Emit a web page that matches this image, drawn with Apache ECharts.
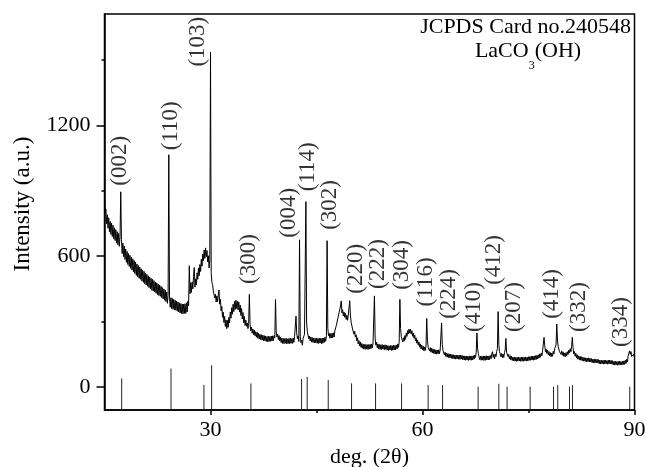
<!DOCTYPE html>
<html>
<head>
<meta charset="utf-8">
<script src="https://cdn.jsdelivr.net/npm/echarts@6/dist/echarts.min.js"></script>
<style>
  html, body { margin: 0; padding: 0; background: #fff; }
  #chart { width: 646px; height: 467px; }
</style>
</head>
<body>
<div id="chart"></div>
<script>
// Measured XRD scan of LaCO3(OH), 0.1° steps in 2θ; each block starts at the 2θ in its name
const STEP = 0.1;
const counts15 = [870, 800, 815, 748, 790, 728, 776, 712, 760, 700, 752, 690, 742, 680, 730, 672, 722, 660, 712, 652,
                  704, 645, 690, 895, 676, 612, 660, 598, 646, 585, 633, 572, 622, 562, 612, 553, 604, 544, 596, 536,
                  588, 528, 580, 521, 572, 512, 564, 506, 557, 498];
const counts20 = [550, 494, 542, 486, 535, 480, 530, 474, 522, 468, 516, 462, 510, 456, 504, 450, 498, 444, 494, 440,
                  488, 436, 482, 430, 478, 424, 472, 420, 468, 416, 462, 410, 456, 404, 450, 398, 444, 392, 436, 384,
                  420, 1065, 412, 366, 410, 360, 406, 357, 402, 354];
const counts25 = [398, 352, 394, 348, 390, 344, 386, 340, 383, 337, 381, 336, 380, 337, 382, 338, 386, 344, 394, 372,
                  556, 428, 478, 434, 482, 450, 506, 548, 458, 496, 468, 524, 494, 546, 510, 562, 530, 586, 554, 610,
                  580, 628, 590, 638, 598, 626, 574, 602, 546, 584];
const counts30 = [1535, 520, 480, 470, 440, 448, 408, 425, 390, 418, 392, 420, 445, 380, 402, 350, 370, 320, 344, 296,
                  324, 278, 308, 268, 306, 274, 320, 294, 344, 316, 364, 334, 380, 346, 392, 356, 398, 360, 394, 354,
                  390, 344, 376, 328, 360, 312, 342, 294, 324, 282];
const counts35 = [307, 279, 294, 268, 292, 425, 286, 258, 275, 247, 266, 240, 261, 235, 254, 229, 251, 224, 246, 221,
                  242, 218, 240, 215, 238, 213, 236, 212, 234, 209, 232, 208, 233, 209, 232, 210, 234, 211, 235, 213,
                  236, 226, 402, 256, 230, 242, 218, 236, 212, 230];
const counts40 = [204, 224, 200, 223, 199, 222, 201, 224, 198, 221, 200, 223, 199, 224, 201, 222, 200, 225, 205, 232,
                  228, 325, 248, 222, 234, 209, 675, 232, 204, 214, 192, 222, 214, 242, 236, 850, 298, 254, 252, 222,
                  234, 212, 230, 206, 227, 205, 225, 202, 224, 203];
const counts45 = [224, 201, 223, 200, 224, 202, 223, 199, 225, 201, 224, 205, 229, 210, 236, 671, 270, 236, 246, 224,
                  245, 225, 247, 226, 249, 230, 258, 250, 282, 276, 312, 306, 342, 336, 372, 395, 340, 355, 326, 344,
                  320, 338, 310, 329, 306, 330, 322, 396, 330, 298];
const counts50 = [300, 266, 272, 242, 256, 229, 240, 212, 226, 198, 213, 189, 207, 182, 200, 178, 197, 174, 195, 173,
                  196, 174, 194, 172, 195, 175, 196, 176, 198, 180, 202, 198, 418, 224, 192, 205, 180, 198, 174, 195,
                  173, 194, 172, 195, 174, 193, 171, 194, 173, 192];
const counts55 = [169, 190, 168, 189, 170, 191, 168, 190, 169, 192, 170, 191, 171, 193, 175, 198, 182, 206, 402, 268,
                  230, 234, 208, 226, 210, 236, 219, 247, 232, 259, 243, 266, 247, 265, 243, 258, 233, 248, 224, 238,
                  212, 226, 201, 216, 192, 207, 183, 198, 175, 192];
const counts60 = [170, 187, 166, 184, 168, 192, 315, 214, 182, 189, 165, 181, 160, 178, 157, 175, 154, 172, 152, 171,
                  151, 170, 152, 171, 153, 170, 162, 294, 196, 168, 168, 147, 160, 140, 156, 137, 154, 135, 152, 134,
                  151, 132, 149, 130, 148, 129, 147, 128, 146, 129];
const counts65 = [147, 128, 146, 127, 147, 129, 145, 126, 143, 124, 143, 123, 142, 124, 141, 122, 143, 124, 142, 123,
                  143, 125, 144, 128, 147, 136, 160, 248, 178, 152, 152, 126, 142, 123, 141, 124, 143, 122, 142, 123,
                  144, 125, 142, 124, 143, 126, 145, 130, 152, 162];
const counts70 = [136, 150, 130, 151, 140, 164, 176, 346, 196, 163, 162, 139, 154, 135, 151, 136, 158, 170, 223, 160,
                  163, 140, 150, 130, 144, 125, 141, 122, 138, 120, 137, 119, 136, 118, 137, 119, 138, 120, 136, 118,
                  137, 119, 138, 118, 136, 120, 138, 119, 137, 120];
const counts75 = [139, 122, 140, 123, 141, 124, 142, 123, 143, 125, 144, 127, 146, 129, 148, 133, 152, 137, 156, 144,
                  168, 170, 228, 190, 162, 174, 154, 170, 148, 163, 142, 158, 139, 156, 141, 164, 152, 176, 168, 194,
                  289, 216, 186, 188, 162, 170, 150, 166, 146, 161];
const counts80 = [141, 156, 139, 158, 142, 162, 149, 170, 156, 176, 162, 186, 228, 182, 152, 163, 141, 155, 134, 148,
                  128, 143, 125, 141, 123, 139, 121, 137, 119, 135, 118, 134, 116, 133, 117, 134, 115, 132, 116, 131,
                  112, 128, 111, 129, 110, 127, 112, 128, 111, 126];
const counts85 = [107, 124, 106, 123, 107, 122, 105, 124, 106, 123, 107, 122, 105, 123, 106, 124, 107, 122, 105, 121,
                  102, 118, 101, 119, 102, 117, 100, 118, 101, 119, 102, 117, 101, 118, 103, 120, 104, 123, 108, 128,
                  116, 142, 143, 166, 150, 163, 140, 148, 132, 150, 136];

// Reference card 24-0548: line positions (2θ) and relative intensities
const cardTwoTheta = [17.43, 24.41, 29.07, 30.16, 35.72, 42.89, 43.68, 46.66, 49.96, 53.36, 57.04,
                      60.80, 62.84, 67.87, 70.80, 71.97, 75.23, 78.54, 79.14, 80.80, 81.22, 89.33];
const cardIntensity = [40, 85, 10, 100, 17, 37, 47, 32, 17, 17, 17,
                       9, 9, 2, 15, 2, 2, 2, 9, 2, 9, 2];

// Miller indices and where each label sits (2θ, intensity)
const hklNames = ['(002)', '(110)', '(103)', '(300)', '(004)', '(114)', '(302)', '(220)', '(222)',
                  '(304)', '(116)', '(224)', '(410)', '(412)', '(207)', '(414)', '(332)', '(334)'];
const hklTwoTheta = [17.19, 24.41, 28.22, 35.44, 41.10, 43.78, 46.90, 50.57, 53.68,
                     57.08, 60.47, 63.72, 67.25, 70.08, 72.91, 78.29, 82.11, 88.05];
const hklLevel = [1037, 1198, 1583, 587, 799, 1010, 835, 542, 564,
                  560, 482, 427, 367, 583, 367, 427, 367, 298];

const xLabelTicks = [30, 60, 90];
const xMinorTicks = [45, 75];
const yLabelTicks = [0, 600, 1200];
const yMinorTicks = [300, 900, 1500];

const X_MIN = 15, X_MAX = 90, Y_MIN = -105, Y_MAX = 1710;
const SERIF = '"Liberation Serif", "Times New Roman", serif';
const INK = '#000';

const blocks = [[15, counts15], [20, counts20], [25, counts25], [30, counts30], [35, counts35],
                [40, counts40], [45, counts45], [50, counts50], [55, counts55], [60, counts60],
                [65, counts65], [70, counts70], [75, counts75], [80, counts80], [85, counts85]];
const scan = [];
blocks.forEach(([start, counts]) => {
  counts.forEach((v, i) => scan.push([Math.round((start + i * STEP) * 100) / 100, v]));
});
const card = cardTwoTheta.map((t, i) => [t, cardIntensity[i]]);
const hkl = hklNames.map((n, i) => ({ name: n, value: [hklTwoTheta[i], hklLevel[i]] }));

const chart = echarts.init(document.getElementById('chart'), null, { renderer: 'canvas' });

const tickStyle = { color: INK, width: 1.5 };
const labelFont = { fontFamily: SERIF, fontSize: 22, color: INK };

chart.setOption({
  animation: false,
  backgroundColor: '#fff',
  grid: {
    left: 104.5, right: 11.5, top: 14, bottom: 57,
    containLabel: false, outerBoundsMode: 'none',
    show: true, borderColor: INK, borderWidth: 1.5, backgroundColor: 'transparent'
  },
  xAxis: [
    {
      type: 'value', min: X_MIN, max: X_MAX,
      name: 'deg. (2θ)', nameLocation: 'middle', nameGap: 32,
      nameTextStyle: { fontFamily: SERIF, fontSize: 22, color: INK },
      axisLine: { show: true, onZero: false, lineStyle: tickStyle },
      axisTick: { show: true, customValues: xLabelTicks, length: 5, lineStyle: tickStyle },
      axisLabel: Object.assign({ customValues: xLabelTicks, margin: 9, formatter: v => String(v) }, labelFont),
      splitLine: { show: false }
    },
    {
      type: 'value', min: X_MIN, max: X_MAX, position: 'bottom',
      axisLine: { show: false, onZero: false },
      axisTick: { show: true, customValues: xMinorTicks, length: 3, lineStyle: tickStyle },
      axisLabel: { show: false },
      splitLine: { show: false }
    }
  ],
  yAxis: [
    {
      type: 'value', min: Y_MIN, max: Y_MAX,
      axisLine: { show: true, onZero: false, lineStyle: tickStyle },
      axisTick: { show: true, customValues: yLabelTicks, length: 8, lineStyle: tickStyle },
      axisLabel: Object.assign({ customValues: yLabelTicks, margin: 14, formatter: v => String(v) }, labelFont),
      splitLine: { show: false }
    },
    {
      type: 'value', min: Y_MIN, max: Y_MAX, position: 'left',
      axisLine: { show: false, onZero: false },
      axisTick: { show: true, customValues: yMinorTicks, length: 3, lineStyle: tickStyle },
      axisLabel: { show: false },
      splitLine: { show: false }
    }
  ],
  series: [
    {
      name: 'scan', type: 'line', data: scan, xAxisIndex: 0, yAxisIndex: 0,
      showSymbol: false, symbol: 'none', silent: true, z: 3,
      lineStyle: { color: INK, width: 1 }
    },
    {
      name: 'card', type: 'custom', data: card, xAxisIndex: 0, yAxisIndex: 0, silent: true, z: 2,
      renderItem: function (params, api) {
        const base = api.coord([api.value(0), Y_MIN]);
        const top = api.coord([api.value(0), api.value(1)]);
        return {
          type: 'line',
          shape: { x1: base[0], y1: base[1], x2: top[0], y2: top[1] },
          style: { stroke: '#222', lineWidth: 1 }
        };
      }
    },
    {
      name: 'hkl', type: 'scatter', data: hkl, xAxisIndex: 0, yAxisIndex: 0, silent: true,
      symbolSize: 1, itemStyle: { color: 'transparent' }, z: 4,
      label: {
        show: true, formatter: '{b}', rotate: 90, position: 'inside',
        align: 'center', verticalAlign: 'middle',
        fontFamily: SERIF, fontSize: 23, color: INK
      }
    }
  ],
  graphic: [
    {
      type: 'text', x: 631, y: 27, silent: true,
      style: { text: 'JCPDS Card no.240548', fontFamily: SERIF, fontSize: 22, fill: INK,
               align: 'right', verticalAlign: 'middle' }
    },
    {
      type: 'text', x: 528, y: 40, silent: true,
      style: {
        text: '{m|LaCO}{s|3}{m|(OH)}', align: 'center', verticalAlign: 'top',
        rich: {
          m: { fontFamily: SERIF, fontSize: 22, fill: INK, lineHeight: 24, verticalAlign: 'top' },
          s: { fontFamily: SERIF, fontSize: 12, fill: INK, lineHeight: 12, verticalAlign: 'top', padding: [20, 0, 0, 0] }
        }
      }
    },
    {
      type: 'text', x: 23, y: 204, rotation: Math.PI / 2, silent: true,
      style: { text: 'Intensity (a.u.)', fontFamily: SERIF, fontSize: 23, fill: INK,
               align: 'center', verticalAlign: 'middle' }
    }
  ]
});
</script>
</body>
</html>
